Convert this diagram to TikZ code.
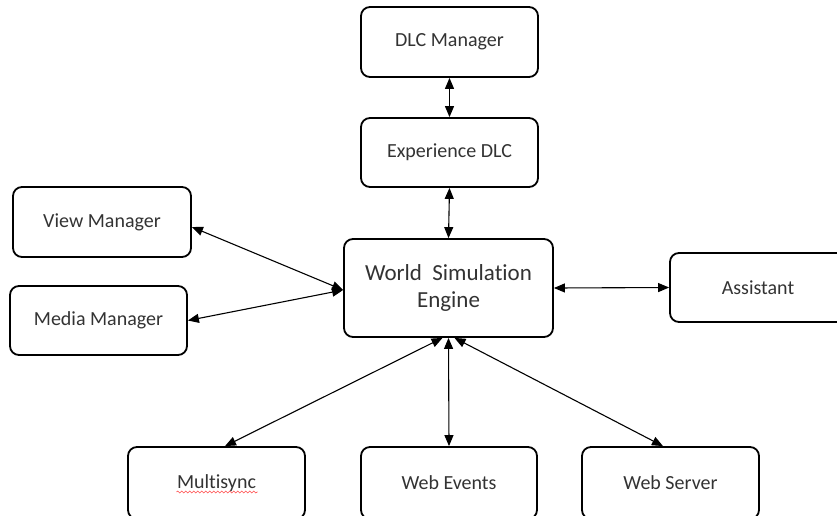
\documentclass[tikz,border=0pt]{standalone}
\usepackage{fontspec}
\setmainfont[Ligatures={NoCommon},RawFeature={-liga;-clig}]{Carlito}
\usetikzlibrary{arrows.meta,calc,decorations.pathmorphing}
\begin{document}
\begin{tikzpicture}[x=1pt,y=-1pt,
 box/.style={draw,line width=1.8pt,rounded corners=9pt,align=center,
   font=\fontsize{20}{24}\selectfont,inner sep=0pt,text=black!80},
 link/.style={line width=1.1pt,{Triangle[length=11pt,width=9pt]}-{Triangle[length=11pt,width=9pt]}}]
\useasboundingbox (0,0) rectangle (837,515);
\fill[white] (0,0) rectangle (837,515);
\clip (0,0) rectangle (837,515);
\node[box,minimum width=177pt,minimum height=70pt] (dlc) at (449.5,42) {DLC Manager};
\node[box,minimum width=177pt,minimum height=69pt] (exp) at (449.5,152.5) {Experience DLC};
\node[box,minimum width=209pt,minimum height=98pt,font=\fontsize{23}{27}\selectfont] (wse) at (448.5,288) {World\ \ Simulat\kern0pt ion\\Engine};
\node[box,minimum width=178pt,minimum height=70pt] (view) at (102,222) {View Manager};
\node[box,minimum width=177pt,minimum height=69pt] (media) at (98.5,320.5) {Media Manager};
\node[box,minimum width=176pt,minimum height=69pt] (asst) at (758,287.5) {Assistant};
\node[box,minimum width=177pt,minimum height=72pt] (ms) at (216.5,483) {Mult\kern0pt isync};
\node[box,minimum width=176pt,minimum height=72pt] (we) at (449,483) {Web Events};
\node[box,minimum width=177pt,minimum height=72pt] (ws) at (670.5,483) {Web Server};
\draw[red!70,line width=0.6pt,decorate,decoration={snake,amplitude=1pt,segment length=4pt}]
  ($(ms.center)+(-40,9)$) -- ($(ms.center)+(41,9)$);
\draw[link] (dlc.south) -- (exp.north);
\draw[link] (exp.south) -- (wse.north);
\draw[link] ($(view.east)+(0,5)$) -- ($(wse.west)+(0,2)$);
\draw[link] (media.east) -- ($(wse.west)+(0,2)$);
\draw[link] (wse.east) -- (asst.west);
\draw[link] ($(wse.south)+(-6,0)$) -- ($(ms.north)+(8.5,0)$);
\draw[link] (wse.south) -- (we.north);
\draw[link] ($(wse.south)+(6,0)$) -- ($(ws.north)+(-7.5,0)$);
\end{tikzpicture}
\end{document}
